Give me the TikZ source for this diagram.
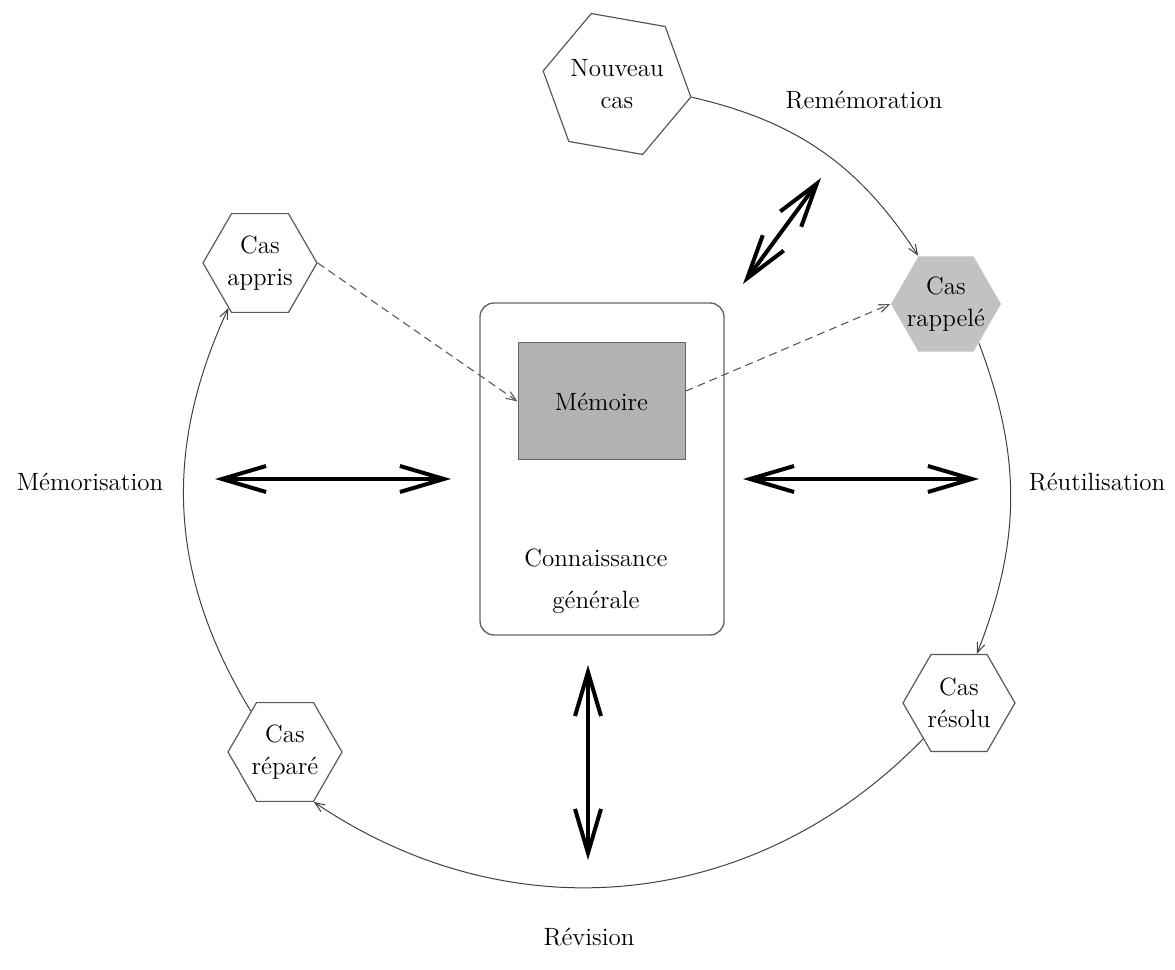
\documentclass[tikz,border=0pt]{standalone}
\usetikzlibrary{shapes.geometric,arrows.meta,calc}
\definecolor{hexline}{gray}{0.35}
\definecolor{arcline}{gray}{0.25}
\definecolor{dashline}{gray}{0.35}
\definecolor{boxline}{gray}{0.4}
\definecolor{recalled}{gray}{0.76}
\definecolor{memfill}{gray}{0.70}
\begin{document}
\begin{tikzpicture}[x=0.5pt,y=0.5pt,
  txt/.style={font=\fontsize{12.5}{16}\selectfont, inner sep=0pt, align=center},
  hexa/.style={regular polygon, regular polygon sides=6, inner sep=0pt,
    draw=hexline, line width=0.6pt},
  cycle/.style={draw=arcline, line width=0.5pt,
    -{Straight Barb[length=5pt,width=4pt]}},
  link/.style={draw=dashline, dash pattern=on 4pt off 2.5pt, line width=0.55pt,
    -{Straight Barb[length=5pt,width=4pt]}},
  exchange/.style={line width=2pt,
    {Straight Barb[length=22pt,width=13pt]}-{Straight Barb[length=22pt,width=13pt]}},
]
\useasboundingbox (0,0) rectangle (1175,970);

% general knowledge container with the case memory inside
\node[draw=boxline, line width=0.7pt, rounded corners=7pt,
  minimum width=122pt, minimum height=166pt] (know) at (602,501) {};
\node[draw=boxline, fill=memfill, line width=0.5pt,
  minimum width=83.5pt, minimum height=58.5pt, txt] (mem) at (601.5,568.5) {Mémoire};
\node[txt] (gen) at (596,389) {Connaissance\\[5pt]générale};

% the cases of the cycle
\node[hexa, minimum size=75pt, shape border rotate=-10,
  label={[txt]center:Nouveau\\cas}] (nc) at (617,886) {};
\node[hexa, draw=none, fill=recalled, minimum size=55pt,
  label={[txt]center:Cas\\rappelé}] (rp) at (946,666) {};
\node[hexa, minimum size=56pt,
  label={[txt]center:Cas\\résolu}] (rs) at (959,267) {};
\node[hexa, minimum size=57pt,
  label={[txt]center:Cas\\réparé}] (rr) at (285,218) {};
\node[hexa, minimum size=57pt,
  label={[txt]center:Cas\\appris}] (ca) at (260,707) {};

% phase names
\node[txt] (p1) at (864,870) {Remémoration};
\node[txt] (p2) at (1097,488) {Réutilisation};
\node[txt] (p3) at (589,33) {Révision};
\node[txt] (p4) at (90,488) {Mémorisation};

% the cycle
\draw[cycle] (nc.-10) to[bend left=22] (rp.120);
\draw[cycle] (rp.-50) to[bend left=21] (rs.70);
\draw[cycle] (rs.225) to[bend left=40] (rr.300);
\draw[cycle] (rr.130) to[bend left=28] (ca.235);

% exchanges with the memory
\draw[link] (ca.0) -- (mem.west);
\draw[link] (mem.7) -- (rp.180);

% exchanges with general knowledge
\coordinate (l1) at (215,491); \coordinate (l2) at (451,491);
\coordinate (r1) at (743,491); \coordinate (r2) at (979,491);
\coordinate (b1) at (588,305); \coordinate (b2) at (588,110);
\coordinate (t1) at (743,686); \coordinate (t2) at (821,792);
\draw[exchange] (l1) -- (l2);
\draw[exchange] (r1) -- (r2);
\draw[exchange] (b1) -- (b2);
\draw[exchange] (t1) -- (t2);
\end{tikzpicture}
\end{document}
